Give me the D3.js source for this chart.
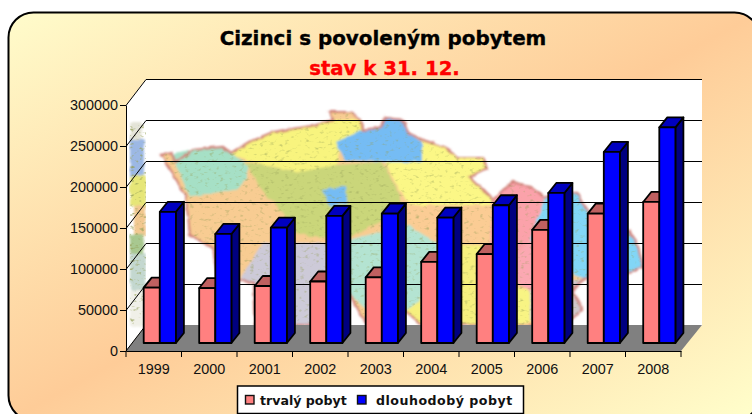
<!DOCTYPE html>
<html><head><meta charset="utf-8">
<script src="https://cdn.jsdelivr.net/npm/d3@7"></script>
<style>html,body{margin:0;padding:0;background:#fff}svg{display:block}</style>
</head><body><svg id="c" width="752" height="414"></svg>
<script>
const years=["1999","2000","2001","2002","2003","2004","2005","2006","2007","2008"];
const permanent=[67500,67000,69500,75000,80000,99000,108500,138000,157800,172000];
const longTerm=[160000,133000,140600,155000,157700,153000,168000,183000,233000,263000];
const yTicks=[0,50000,100000,150000,200000,250000,300000];
const title="Cizinci s povoleným pobytem", subtitle="stav k 31. 12.";
const seriesNames=["trvalý pobyt","dlouhodobý pobyt"];

// decorative background map (approximate regions)
const mapOutline="161,155 171,153 176,162 193,150 223,147 231,153 249,142 273,132 299,128 316,125 333,120 330,112 352,112 360,120 363,130 382,127 385,118 403,120 408,133 423,140 447,148 457,158 483,158 487,168 470,177 480,187 493,200 503,190 513,182 533,188 545,197 577,193 582,203 600,225 630,232 638,247 643,267 630,273 600,272 583,280 573,290 583,310 570,320 545,325 422,325 407,312 367,325 350,295 340,325 255,325 253,283 217,275 213,248 190,235 186,197 172,172";
const mapRegions=[
 ["#f8f47e","231,153 249,142 273,132 299,128 316,125 333,120 360,120 363,130 340,150 335,170 300,172 262,165 245,160"],
 ["#a6e0c6","171,155 193,150 223,147 231,153 247,165 247,178 236,190 190,197 178,170"],
 ["#cad67a","245,162 300,172 336,165 382,162 400,195 400,212 340,242 280,230 262,190"],
 ["#f8cc92","186,197 236,190 262,190 285,215 300,243 262,243 240,280 217,275 213,248 190,235"],
 ["#74bcf4","336,142 363,130 382,127 385,118 403,120 408,133 422,142 422,162 380,162 345,160"],
 ["#fbf786","422,142 447,148 457,158 483,158 487,168 470,177 480,187 493,200 490,206 410,205 396,185 385,162 422,162"],
 ["#74bcf4","322,190 346,186 347,203 330,206"],
 ["#fbcc94","400,205 493,205 500,240 440,245 408,225"],
 ["#cdcad8","262,243 358,243 356,290 350,296 340,325 255,325 253,283 240,280"],
 ["#b4e4d2","340,242 408,225 440,245 430,290 406,312 367,310 350,295"],
 ["#f6f07e","440,245 495,245 490,325 422,325 406,312 430,290"],
 ["#fba2aa","493,200 503,190 513,182 533,188 545,197 530,240 500,275 490,245"],
 ["#82d6f6","545,197 577,193 582,203 600,225 630,232 638,247 643,267 630,273 600,272 583,280 560,265 530,240"],
 ["#fba8b2","500,275 530,240 560,265 560,280 530,290"],
 ["#d0c8cc","530,290 560,280 583,280 573,290 583,310 570,320 545,325 530,320"],
 ["#f8f484","495,285 530,290 530,322 495,325"]
];
const wallBlocks=[
 ["#e4e4d8",130,122,12,18],["#9cb8e4",130,140,14,36],["#e6e678",130,176,16,30],["#f2c890",134,206,12,30],
 ["#a8c890",130,234,14,20],["#c4d8d0",130,254,16,36],["#f0f0e8",130,290,16,36]
];

const svg=d3.select("#c");
const defs=svg.append("defs");
const g=defs.append("linearGradient").attr("id","bg").attr("x1",0).attr("y1",0).attr("x2",1).attr("y2",1);
[[0,"#fffccb"],[.5,"#fecc98"],[1,"#ffffcc"]].forEach(s=>g.append("stop").attr("offset",s[0]).attr("stop-color",s[1]));
const fl=defs.append("filter").attr("id","soft").attr("x","-5%").attr("y","-5%").attr("width","110%").attr("height","110%");
fl.append("feTurbulence").attr("type","fractalNoise").attr("baseFrequency",0.14).attr("numOctaves",2).attr("seed",4).attr("result","n");
fl.append("feDisplacementMap").attr("in","SourceGraphic").attr("in2","n").attr("scale",4).attr("xChannelSelector","R").attr("yChannelSelector","G").attr("result","d");
fl.append("feGaussianBlur").attr("in","d").attr("stdDeviation",1.2);
const fs=defs.append("filter").attr("id","speck").attr("x",0).attr("y",0).attr("width","100%").attr("height","100%");
fs.append("feTurbulence").attr("type","fractalNoise").attr("baseFrequency","0.2 0.32").attr("numOctaves",2).attr("seed",9);
fs.append("feColorMatrix").attr("values","0 0 0 0 0.3  0 0 0 0 0.35  0 0 0 0 0.1  3.2 0 0 0 -1.85");
fs.append("feGaussianBlur").attr("stdDeviation",0.6);
fs.append("feComposite").attr("in2","SourceGraphic").attr("operator","in");
defs.append("clipPath").attr("id","wallClip").append("rect").attr("x",146).attr("y",79).attr("width",556).attr("height",247);
defs.append("clipPath").attr("id","sideClip").append("polygon").attr("points","126,105 146,79 146,325 126,351");

svg.append("rect").attr("x",8.5).attr("y",12.5).attr("width",751).attr("height",408).attr("rx",25).attr("ry",25)
  .attr("fill","url(#bg)").attr("stroke","#000").attr("stroke-width",2);

const y=d3.scaleLinear().domain([0,300000]).range([351,105]);
const x=d3.scaleBand().domain(years).range([126,681]);
const DY=26;

// text
const heavy=(sel)=>sel.attr("font-family","DejaVu Sans").attr("font-weight","bold").attr("stroke-width",0.35);
heavy(svg.append("text")).attr("x",383).attr("y",45).attr("text-anchor","middle").attr("stroke","#000")
  .attr("font-size",19.9).attr("fill","#000").text(title);
heavy(svg.append("text")).attr("x",384.5).attr("y",75).attr("text-anchor","middle").attr("stroke","#f00")
  .attr("font-size",19.7).attr("fill","#f00").text(subtitle);

// walls
svg.append("rect").attr("x",146).attr("y",79).attr("width",556).attr("height",247).attr("fill","#fff");
svg.append("polygon").attr("points","126,105 146,79 146,325 126,351").attr("fill","#fff");
const sideClip=svg.append("g").attr("clip-path","url(#sideClip)");
const side=sideClip.append("g").attr("filter","url(#soft)");
side.selectAll("rect").data(wallBlocks).join("rect")
  .attr("x",d=>d[1]).attr("y",d=>d[2]).attr("width",d=>d[3]).attr("height",d=>d[4]).attr("fill",d=>d[0]);
sideClip.append("rect").attr("x",130).attr("y",125).attr("width",16).attr("height",200).attr("fill","#000").attr("filter","url(#speck)");
const mapG=svg.append("g").attr("clip-path","url(#wallClip)");
const mapInner=mapG.append("g").attr("filter","url(#soft)");
mapInner.append("polygon").attr("points",mapOutline).attr("fill","#f8cc92");
mapInner.selectAll("polygon.r").data(mapRegions).join("polygon").attr("class","r").attr("points",d=>d[1]).attr("fill",d=>d[0]);
mapInner.append("polygon").attr("points",mapOutline).attr("fill","none").attr("stroke","#d08078").attr("stroke-width",2.2);
mapG.append("polygon").attr("points",mapOutline).attr("fill","#000").attr("filter","url(#speck)").attr("opacity",.5);

// gridlines
const grid=svg.append("g").attr("fill","none").attr("stroke","#000").attr("stroke-width",1);
grid.selectAll("path").data(yTicks.slice(1)).join("path")
  .attr("d",d=>`M126,${Math.round(y(d))+.5}L146,${Math.round(y(d)-DY)+.5}L702,${Math.round(y(d)-DY)+.5}`);
// floor
svg.append("polygon").attr("points",`126,351 146,${351-DY} 702,${351-DY} 681,351`).attr("fill","#808080");
svg.append("path").attr("d",`M146,${351-DY}L126,351`).attr("stroke","#000");

// bars
const bw=16.1,inset=17.7,bdx=8,bdy=10,base=343;
const series=[
 {vals:permanent,off:0,front:"#ff8080",top:"#bf6060",side:"#804040"},
 {vals:longTerm,off:bw,front:"#0000ff",top:"#0000bf",side:"#000080"}
];
const yBar=v=>y(v)-8;
const bars=svg.append("g").attr("stroke","#000").attr("stroke-width",1.8).attr("stroke-linejoin","round");
years.forEach((yr,i)=>{
  series.forEach(s=>{
    const x0=x(yr)+inset+s.off,x1=x0+bw,t=yBar(s.vals[i]);
    bars.append("polygon").attr("points",`${x1},${t} ${x1+bdx},${t-bdy} ${x1+bdx},${base-bdy} ${x1},${base}`).attr("fill",s.side);
    bars.append("polygon").attr("points",`${x0},${t} ${x0+bdx},${t-bdy} ${x1+bdx},${t-bdy} ${x1},${t}`).attr("fill",s.top);
    bars.append("rect").attr("x",x0).attr("y",t).attr("width",bw).attr("height",base-t).attr("fill",s.front);
  });
});

// axes
const font="Liberation Sans";
const ay=svg.append("g").attr("transform","translate(126,0)").call(d3.axisLeft(y).tickValues(yTicks).tickSize(6).tickSizeOuter(0).tickFormat(d3.format("d")));
const ax=svg.append("g").attr("transform","translate(0,351)").call(d3.axisBottom(x).tickSize(0).tickSizeOuter(0));
ay.selectAll("text").attr("font-family",font).attr("font-size",14.4).attr("fill","#111").attr("x",-8);
ax.selectAll("text").attr("font-family",font).attr("font-size",14.4).attr("fill","#111").attr("y",23).attr("dy",0);
ay.selectAll("line,path").attr("stroke","#000");
ax.selectAll("path").attr("stroke","#000");
ax.selectAll("g.b").data(years.concat(["end"])).join("g").attr("class","b").append("line")
  .attr("x1",(d,i)=>i<10?x(d):681).attr("x2",(d,i)=>i<10?x(d):681).attr("y1",0).attr("y2",6).attr("stroke","#000");

// legend
const lg=svg.append("g");
lg.append("rect").attr("x",237.5).attr("y",386).attr("width",286).attr("height",27.5).attr("fill","#fff").attr("stroke","#000").attr("stroke-width",1.5);
const legendItems=[{sx:245.5,tx:260,c:"#ff8080",n:seriesNames[0],ls:0},{sx:357.5,tx:376,c:"#0000ff",n:seriesNames[1],ls:0.5}];
legendItems.forEach(l=>{
  lg.append("rect").attr("x",l.sx).attr("y",395.5).attr("width",8.5).attr("height",8.5).attr("fill",l.c).attr("stroke","#111").attr("stroke-width",1.4);
  lg.append("text").attr("x",l.tx).attr("y",405).attr("font-family","DejaVu Sans").attr("font-weight","bold").attr("font-size",12.6).attr("letter-spacing",l.ls).attr("fill","#111").text(l.n);
});
</script></body></html>
